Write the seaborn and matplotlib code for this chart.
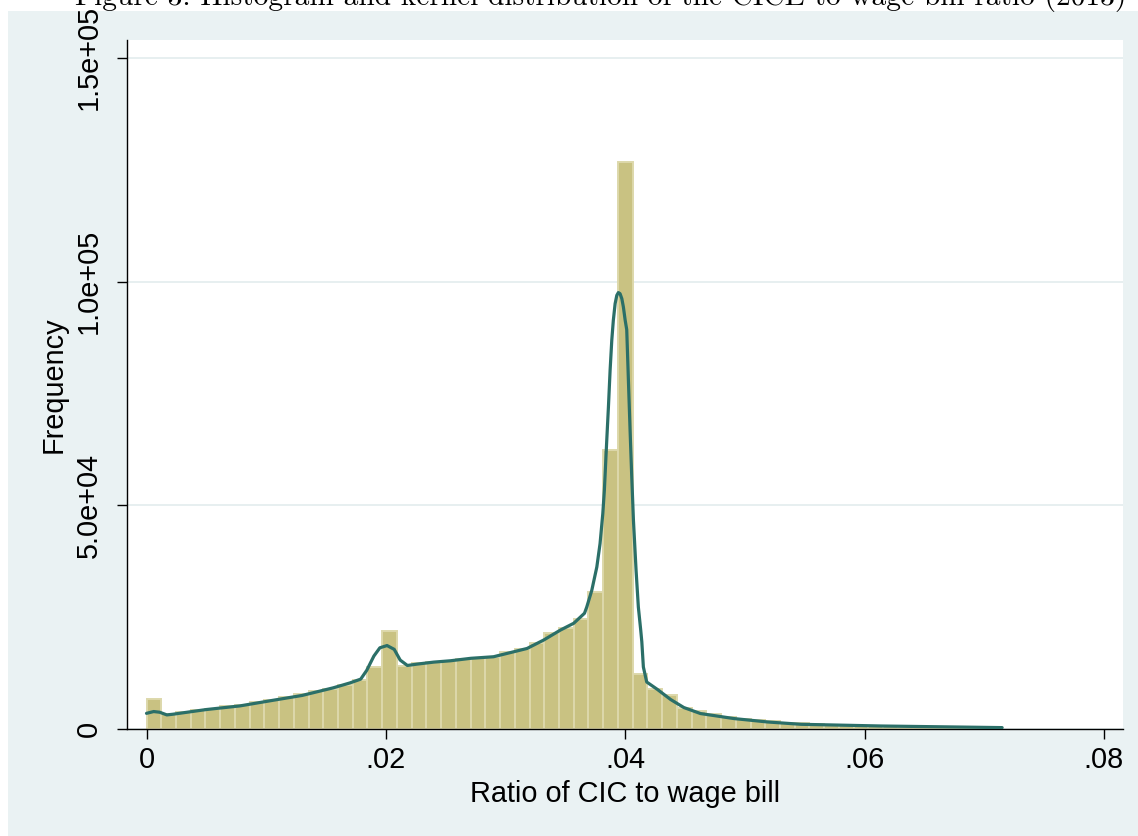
import numpy as np
import pandas as pd
import matplotlib
matplotlib.use("Agg")
import matplotlib.pyplot as plt
from matplotlib.patches import Rectangle
import seaborn as sns

# Histogram: 58 equal-width bins of the CIC / wage bill ratio
bin_lo = 0.0
bin_hi = 0.0714
counts = [
    6600, 3400, 3750, 4200, 4570, 5090, 5470, 5990, 6590, 7100,
    7800, 8450, 8970, 9800, 10900, 13900, 21800, 14100, 14660, 15000,
    15200, 15700, 15800, 16150, 17200, 17800, 19150, 21400, 22500, 24600,
    30650, 62400, 126800, 12260, 9000, 7710, 4800, 3970, 3300, 2690,
    2330, 1950, 1730, 1430, 1250, 1100, 960, 850, 760, 680,
    610, 550, 490, 440, 400, 360, 320, 280,
]

# Kernel density estimate, scaled to frequency
kde_x = [
    0.0000, 0.0006, 0.0011, 0.0017, 0.0022, 0.0050, 0.0078, 0.0106, 0.0130, 0.0156,
    0.0170, 0.0179, 0.0184, 0.0190, 0.0195, 0.0201, 0.0207, 0.0212, 0.0218, 0.0226,
    0.0240, 0.0254, 0.0271, 0.0290, 0.0318, 0.0332, 0.0346, 0.0357, 0.0366, 0.03679,
    0.03721, 0.03763, 0.03790, 0.03813, 0.03826, 0.03838, 0.03846, 0.03860, 0.03874, 0.03888,
    0.03901, 0.03916, 0.03930, 0.03943, 0.03957, 0.03972, 0.03985, 0.04000, 0.04013, 0.04027,
    0.04041, 0.04055, 0.04069, 0.04091, 0.04110, 0.04130, 0.04139, 0.04152, 0.04180, 0.0427,
    0.0438, 0.0449, 0.0463, 0.0491, 0.0519, 0.0547, 0.0614, 0.0715,
]
kde_y = [
    3500, 3900, 3750, 3150, 3300, 4350, 5160, 6430, 7500, 9200,
    10300, 11150, 13100, 16300, 18150, 18650, 17800, 15400, 14200, 14500,
    14950, 15250, 15800, 16150, 18000, 19900, 22130, 23630, 25870, 27270,
    31000, 36200, 41440, 48140, 53350, 60050, 64520, 71970, 80170, 86880,
    91350, 95080, 96930, 97540, 97310, 96190, 94320, 91350, 89250, 77930,
    66760, 56320, 46650, 35470, 27270, 22060, 19500, 13860, 10500, 8830,
    6590, 4800, 3450, 2330, 1570, 1050, 670, 310,
]

x_ticks = [0.0, 0.02, 0.04, 0.06, 0.08]
x_tick_labels = ["0", ".02", ".04", ".06", ".08"]
y_ticks = [0, 50000, 100000, 150000]
y_tick_labels = ["0", "5.0e+04", "1.0e+05", "1.5e+05"]

title = "Figure 3: Histogram and kernel distribution of the CICE to wage bill ratio (2013)"
x_title = "Ratio of CIC to wage bill"
y_title = "Frequency"

edges = np.linspace(bin_lo, bin_hi, len(counts) + 1)
hist_df = pd.DataFrame({"ratio": (edges[:-1] + edges[1:]) / 2, "n": counts})
kde_df = pd.DataFrame({"ratio": kde_x, "freq": kde_y})

sns.set_style("white")
plt.rcParams["font.family"] = ["Liberation Sans", "DejaVu Sans"]
plt.rcParams["text.color"] = "black"
plt.rcParams["axes.labelcolor"] = "black"

W, H = 1138, 836
fig = plt.figure(figsize=(W / 100, H / 100), dpi=100)
fig.patch.set_facecolor("white")

# light graph-region panel behind the plot
panel = Rectangle((8 / W, 0), 1, 1 - 11 / H, transform=fig.transFigure,
                  facecolor="#EAF2F3", edgecolor="none", zorder=-10)
fig.add_artist(panel)

ax = fig.add_axes([127 / W, 1 - 729 / H, (1123 - 127) / W, (729 - 40) / H])
ax.set_zorder(1)
ax.set_facecolor("white")

sns.histplot(data=hist_df, x="ratio", weights="n", bins=edges.tolist(), ax=ax,
             color="#C9C282", edgecolor="#DDD8AB", linewidth=1.4, alpha=1.0, zorder=2)
sns.lineplot(data=kde_df, x="ratio", y="freq", ax=ax, color="#2B6F68",
             linewidth=2.3, zorder=3, solid_joinstyle="round", solid_capstyle="round")

ax.set_xlim(-0.00163, 0.0816)
ax.set_ylim(0, 154000)

ax.set_xticks(x_ticks)
ax.set_xticklabels(x_tick_labels)
ax.set_yticks(y_ticks)
ax.set_yticklabels(y_tick_labels, rotation=90, va="center")

ax.grid(axis="y", color="#E3ECEE", linewidth=1.2, zorder=0)
ax.grid(axis="x", visible=False)
ax.set_axisbelow(True)

for s in ["top", "right"]:
    ax.spines[s].set_visible(False)
for s in ["left", "bottom"]:
    ax.spines[s].set_color("black")
    ax.spines[s].set_linewidth(1.0)

ax.tick_params(axis="both", which="major", direction="out", length=7.5, width=1.0,
               color="black", labelsize=20.8, labelcolor="black",
               bottom=True, left=True)
ax.tick_params(axis="x", pad=5)
ax.tick_params(axis="y", pad=10)

ax.set_xlabel(x_title, fontsize=20.8, labelpad=4, color="black")
ax.set_ylabel(y_title, fontsize=20.8, labelpad=5, color="black")

fig.text(601 / W, 1 - 5 / H, title, ha="center", va="baseline", fontsize=21.2,
         family=["cmr10", "DejaVu Serif"], color="black")

fig.savefig("out.png", dpi=100)
